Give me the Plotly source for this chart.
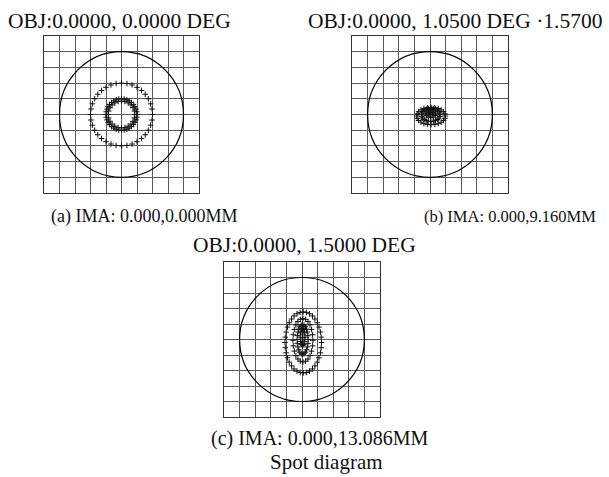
import plotly.graph_objects as go

# ---------------- data ----------------
GRID_TICKS = [-5, -4, -3, -2, -1, 0, 1, 2, 3, 4, 5]
AIRY_RADIUS = 4.0

TITLES = ["OBJ:0.0000, 0.0000 DEG", "OBJ:0.0000, 1.0500 DEG \u00b71.5700", "OBJ:0.0000, 1.5000 DEG"]
CAPTIONS = ["(a) IMA: 0.000,0.000MM", "(b) IMA: 0.000,9.160MM", "(c) IMA: 0.000,13.086MM"]
FIG_TITLE = "Spot diagram"

# panel (a) spot points
A_R1_X = [2, 1.97, 1.88, 1.73, 1.53, 1.29, 1.0, 0.68, 0.35, 0, -0.35, -0.68, -1.0, -1.29, -1.53, -1.73, -1.88, -1.97,
          -2, -1.97, -1.88, -1.73, -1.53, -1.29, -1.0, -0.68, -0.35, 0, 0.35, 0.68, 1.0, 1.29, 1.53, 1.73, 1.88, 1.97]
A_R1_Y = [0, 0.35, 0.68, 1.0, 1.29, 1.53, 1.73, 1.88, 1.97, 2, 1.97, 1.88, 1.73, 1.53, 1.29, 1.0, 0.68, 0.35,
          0, -0.35, -0.68, -1.0, -1.29, -1.53, -1.73, -1.88, -1.97, -2, -1.97, -1.88, -1.73, -1.53, -1.29, -1.0, -0.68, -0.35]
A_R2_X = [1, 0.985, 0.94, 0.866, 0.766, 0.643, 0.5, 0.342, 0.174, 0, -0.174, -0.342, -0.5, -0.643, -0.766, -0.866, -0.94, -0.985,
          -1, -0.985, -0.94, -0.866, -0.766, -0.643, -0.5, -0.342, -0.174, 0, 0.174, 0.342, 0.5, 0.643, 0.766, 0.866, 0.94, 0.985]
A_R2_Y = [0, 0.174, 0.342, 0.5, 0.643, 0.766, 0.866, 0.94, 0.985, 1, 0.985, 0.94, 0.866, 0.766, 0.643, 0.5, 0.342, 0.174,
          0, -0.174, -0.342, -0.5, -0.643, -0.766, -0.866, -0.94, -0.985, -1, -0.985, -0.94, -0.866, -0.766, -0.643, -0.5, -0.342, -0.174]
A_R3_X = [0.86, 0.83, 0.74, 0.61, 0.43, 0.22, 0, -0.22, -0.43, -0.61, -0.74, -0.83,
          -0.86, -0.83, -0.74, -0.61, -0.43, -0.22, 0, 0.22, 0.43, 0.61, 0.74, 0.83]
A_R3_Y = [0, 0.22, 0.43, 0.61, 0.74, 0.83, 0.86, 0.83, 0.74, 0.61, 0.43, 0.22,
          0, -0.22, -0.43, -0.61, -0.74, -0.83, -0.86, -0.83, -0.74, -0.61, -0.43, -0.22]

# panel (b) spot points
B_R1_X = [0.99, 0.96, 0.87, 0.72, 0.53, 0.31, 0.07, -0.17, -0.39, -0.58, -0.73, -0.82,
          -0.85, -0.82, -0.73, -0.58, -0.39, -0.17, 0.07, 0.31, 0.53, 0.72, 0.87, 0.96]
B_R1_Y = [-0.1, 0.04, 0.18, 0.29, 0.38, 0.43, 0.45, 0.43, 0.38, 0.29, 0.18, 0.04,
          -0.1, -0.24, -0.38, -0.49, -0.58, -0.63, -0.65, -0.63, -0.58, -0.49, -0.38, -0.24]
B_R2_X = [0.65, 0.63, 0.57, 0.47, 0.35, 0.21, 0.05, -0.11, -0.25, -0.37, -0.47, -0.53,
          -0.55, -0.53, -0.47, -0.37, -0.25, -0.11, 0.05, 0.21, 0.35, 0.47, 0.57, 0.63]
B_R2_Y = [-0.02, 0.09, 0.19, 0.28, 0.34, 0.39, 0.40, 0.39, 0.34, 0.28, 0.19, 0.09,
          -0.02, -0.13, -0.23, -0.32, -0.38, -0.43, -0.44, -0.43, -0.38, -0.32, -0.23, -0.13]
B_R3_X = [0.37, 0.33, 0.21, 0.05, -0.11, -0.23, -0.27, -0.23, -0.11, 0.05, 0.21, 0.33]
B_R3_Y = [0.08, 0.22, 0.32, 0.36, 0.32, 0.22, 0.08, -0.06, -0.16, -0.20, -0.16, -0.06]
B_R4_X = [0.19, 0.15, 0.05, -0.05, -0.09, -0.05, 0.05, 0.15]
B_R4_Y = [0.12, 0.22, 0.26, 0.22, 0.12, 0.02, -0.02, 0.02]

# panel (c) spot points
C_R1_X = [1.25, 1.23, 1.18, 1.09, 0.98, 0.83, 0.67, 0.48, 0.28, 0.08, -0.12, -0.32, -0.51, -0.67, -0.82, -0.93, -1.02, -1.07,
          -1.09, -1.07, -1.02, -0.93, -0.82, -0.67, -0.51, -0.32, -0.12, 0.08, 0.28, 0.48, 0.67, 0.83, 0.98, 1.09, 1.18, 1.23]
C_R1_Y = [-0.19, 0.15, 0.48, 0.80, 1.08, 1.32, 1.52, 1.66, 1.75, 1.78, 1.75, 1.66, 1.52, 1.32, 1.08, 0.80, 0.48, 0.15,
          -0.19, -0.53, -0.86, -1.18, -1.46, -1.70, -1.90, -2.04, -2.13, -2.16, -2.13, -2.04, -1.90, -1.70, -1.46, -1.18, -0.86, -0.53]
C_R2_X = [0.70, 0.68, 0.61, 0.51, 0.38, 0.23, 0.06, -0.11, -0.26, -0.39, -0.49, -0.56,
          -0.58, -0.56, -0.49, -0.39, -0.26, -0.11, 0.06, 0.23, 0.38, 0.51, 0.61, 0.68]
C_R2_Y = [-0.05, 0.31, 0.65, 0.94, 1.16, 1.30, 1.35, 1.30, 1.16, 0.94, 0.65, 0.31,
          -0.05, -0.41, -0.75, -1.04, -1.26, -1.40, -1.45, -1.40, -1.26, -1.04, -0.75, -0.41]
C_R3_X = [0.39, 0.38, 0.34, 0.29, 0.22, 0.13, 0.04, -0.05, -0.14, -0.21, -0.26, -0.30,
          -0.31, -0.30, -0.26, -0.21, -0.14, -0.05, 0.04, 0.13, 0.22, 0.29, 0.34, 0.38]
C_R3_Y = [0, 0.25, 0.48, 0.67, 0.82, 0.92, 0.95, 0.92, 0.82, 0.67, 0.48, 0.25,
          0, -0.25, -0.48, -0.67, -0.82, -0.92, -0.95, -0.92, -0.82, -0.67, -0.48, -0.25]
C_R4_X = [0.19, 0.17, 0.115, 0.04, -0.035, -0.09, -0.11, -0.09, -0.035, 0.04, 0.115, 0.17, 0.04, 0.04, 0.04, 0.04, 0.04]
C_R4_Y = [0.15, 0.425, 0.63, 0.70, 0.63, 0.425, 0.15, -0.125, -0.33, -0.40, -0.33, -0.125, -0.3, -0.1, 0.1, 0.3, 0.5]

SPOTS = [
    (A_R1_X + A_R2_X + A_R3_X, A_R1_Y + A_R2_Y + A_R3_Y),
    (B_R1_X + B_R2_X + B_R3_X + B_R4_X, B_R1_Y + B_R2_Y + B_R3_Y + B_R4_Y),
    (C_R1_X + C_R2_X + C_R3_X + C_R4_X, C_R1_Y + C_R2_Y + C_R3_Y + C_R4_Y),
]

# ---------------- layout ----------------
W, H = 609, 477
# panel pixel boxes (left, right, top, bottom)
BOXES = [(44, 199, 36, 193), (352, 508, 36, 193), (224, 380, 262, 417)]

fig = go.Figure()
FONT = "Liberation Serif, Times New Roman, serif"

for i, ((sx, sy), (l, r, t, b)) in enumerate(zip(SPOTS, BOXES)):
    n = "" if i == 0 else str(i + 1)
    xa, ya = "x" + n, "y" + n
    fig.add_trace(go.Scatter(
        x=sx, y=sy, mode="markers", xaxis=xa, yaxis=ya, showlegend=False,
        marker=dict(symbol="cross-thin", size=4, color="black", line=dict(width=1, color="#111")),
        hoverinfo="skip"))
    ax = dict(range=[GRID_TICKS[0], GRID_TICKS[-1]], tickmode="array", tickvals=GRID_TICKS,
              showticklabels=False, ticks="",
              showgrid=True, gridcolor="#5a5a5a", gridwidth=1, zeroline=False,
              showline=True, linecolor="#333", linewidth=1, mirror=True, fixedrange=True)
    fig.layout["xaxis" + n] = dict(ax, domain=[l / W, r / W], anchor=ya)
    fig.layout["yaxis" + n] = dict(ax, domain=[1 - b / H, 1 - t / H], anchor=xa)
    fig.add_shape(type="circle", xref=xa, yref=ya,
                  x0=-AIRY_RADIUS, x1=AIRY_RADIUS, y0=-AIRY_RADIUS, y1=AIRY_RADIUS,
                  line=dict(color="black", width=1.2))

# text: (text, x_px, y_px, size)
TEXTS = [
    (TITLES[0], 119, 21, 21.5),
    (TITLES[1], 455, 21, 21.5),
    (CAPTIONS[0], 144, 216, 18),
    (CAPTIONS[1], 510, 216, 16.5),
    (TITLES[2], 304, 245, 21.5),
    (CAPTIONS[2], 319, 438, 20),
    (FIG_TITLE, 326, 462, 21),
]
for txt, xp, yp, fs in TEXTS:
    fig.add_annotation(text=txt, x=xp / W, y=1 - yp / H, xref="paper", yref="paper",
                       xanchor="center", yanchor="middle", showarrow=False, borderpad=0,
                       font=dict(family=FONT, size=fs, color="#111"))

fig.update_layout(width=W, height=H, margin=dict(l=0, r=0, t=0, b=0),
                  paper_bgcolor="white", plot_bgcolor="white")
fig.write_html("out.html", config={"displayModeBar": False},
               post_script="document.body.style.margin='0';document.body.style.overflow='hidden';")
